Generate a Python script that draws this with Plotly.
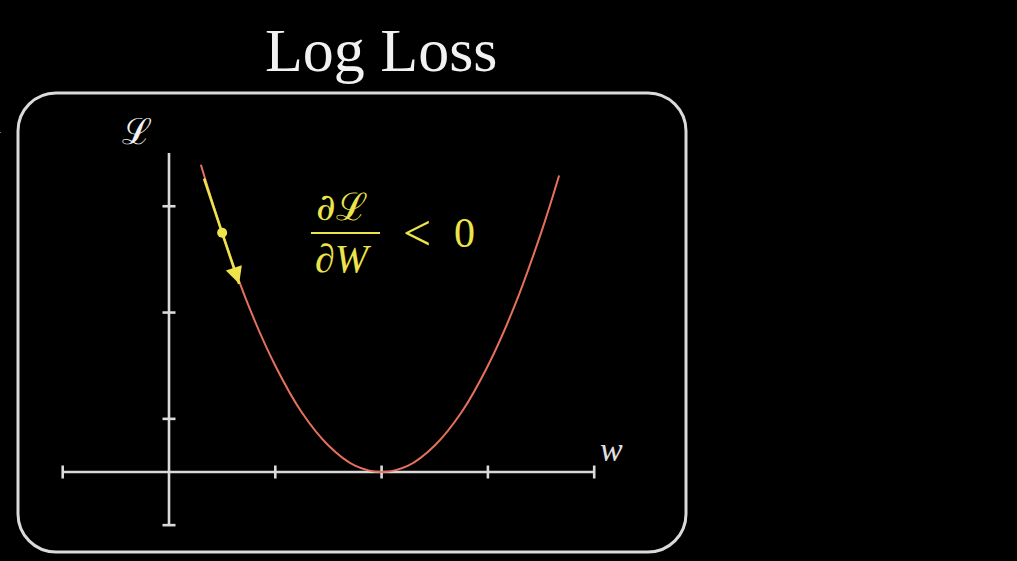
import plotly.graph_objects as go

# loss curve, values (minimum at w = 2)
w_vals = [0.3, 0.5, 0.75, 1.0, 1.25, 1.5, 1.75, 2.0, 2.25, 2.5, 2.75, 3.0, 3.25, 3.5, 3.67]
loss_vals = [2.89, 2.25, 1.56, 1.0, 0.56, 0.25, 0.06, 0.0, 0.06, 0.25, 0.56, 1.0, 1.56, 2.25, 2.79]

# manim style axes
x_axis_range = [-1, 4]
y_axis_range = [-0.5, 3]
x_ticks = [-1, 1, 2, 3, 4]
y_ticks = [-0.5, 0.5, 1.5, 2.5]

# current weight and the step direction
point_w = [0.5]
point_loss = [2.25]
arrow_w = [0.33, 0.66]
arrow_loss = [2.76, 1.77]

title_text = "Log Loss"
y_label = "ℒ"
x_label = "w"

W, H = 1017, 561
X0, Y0, U = 169, 472, 106.3   # origin pixel and pixels per unit


def px(x):
    return (x - X0) / U


def py(y):
    return (Y0 - y) / U


WHITE = "#DADADA"
YELLOW = "#ECE44A"
RED = "#E8705C"
TICK = 6.5 / U

fig = go.Figure()

# axis lines with their ticks
xs, ys = [x_axis_range[0], x_axis_range[1], None], [0, 0, None]
for t in x_ticks:
    xs += [t, t, None]
    ys += [-TICK, TICK, None]
xs += [0, 0, None]
ys += [y_axis_range[0], y_axis_range[1], None]
for t in y_ticks:
    xs += [-TICK, TICK, None]
    ys += [t, t, None]
fig.add_trace(go.Scatter(x=xs, y=ys, mode="lines",
                         line=dict(color=WHITE, width=2.6),
                         hoverinfo="skip", showlegend=False))

# loss curve
fig.add_trace(go.Scatter(x=w_vals, y=loss_vals, mode="lines",
                         line=dict(color=RED, width=2, shape="spline"),
                         showlegend=False))

# gradient arrow + point
fig.add_trace(go.Scatter(x=arrow_w, y=arrow_loss, mode="lines",
                         line=dict(color=YELLOW, width=2.6),
                         showlegend=False))
fig.add_annotation(x=arrow_w[1], y=arrow_loss[1], ax=arrow_w[1] - 0.04,
                   ay=arrow_loss[1] + 0.12, axref="x", ayref="y",
                   text="", showarrow=True, arrowhead=2, arrowsize=1.3,
                   arrowwidth=2.6, arrowcolor=YELLOW)
fig.add_trace(go.Scatter(x=point_w, y=point_loss, mode="markers",
                         marker=dict(color=YELLOW, size=10),
                         showlegend=False))

# rounded frame
L, R, T, B, r = 18, 686, 93, 552, 38
k = 0.5523 * r
path = (
    f"M {px(L + r)},{py(T)} L {px(R - r)},{py(T)} "
    f"C {px(R - r + k)},{py(T)} {px(R)},{py(T + r - k)} {px(R)},{py(T + r)} "
    f"L {px(R)},{py(B - r)} "
    f"C {px(R)},{py(B - r + k)} {px(R - r + k)},{py(B)} {px(R - r)},{py(B)} "
    f"L {px(L + r)},{py(B)} "
    f"C {px(L + r - k)},{py(B)} {px(L)},{py(B - r + k)} {px(L)},{py(B - r)} "
    f"L {px(L)},{py(T + r)} "
    f"C {px(L)},{py(T + r - k)} {px(L + r - k)},{py(T)} {px(L + r)},{py(T)} Z"
)
fig.add_shape(type="path", path=path, xref="x", yref="y",
              line=dict(color=WHITE, width=3))

serif = "Liberation Serif"

# title and axis labels
fig.add_annotation(x=px(381), y=py(50), text=title_text, showarrow=False,
                   font=dict(family=serif, size=62, color="#F2F2F2"))
fig.add_annotation(x=px(137), y=py(131), text=y_label, showarrow=False,
                   font=dict(family="DejaVu Serif", size=36, color="#F2F2F2"))
fig.add_annotation(x=px(611), y=py(449), text=f"<i>{x_label}</i>", showarrow=False,
                   font=dict(family=serif, size=34, color="#E0E0E0"))
# text cut off at the left edge of the frame
fig.add_annotation(x=px(3), y=py(123), text="n", showarrow=False, xanchor="right",
                   font=dict(family=serif, size=28, color="#E0E0E0"))

# dL/dW < 0
fig.add_annotation(x=px(342), y=py(207), text="<i>∂</i>ℒ", showarrow=False,
                   font=dict(family="DejaVu Serif", size=38, color=YELLOW))
fig.add_annotation(x=px(343), y=py(258), text="<i>∂W</i>", showarrow=False,
                   font=dict(family=serif, size=40, color=YELLOW))
fig.add_shape(type="line", x0=px(311), x1=px(380), y0=py(233), y1=py(233),
              xref="x", yref="y", line=dict(color=YELLOW, width=2.2))
fig.add_annotation(x=px(417), y=py(233), text="<", showarrow=False,
                   font=dict(family=serif, size=50, color=YELLOW))
fig.add_annotation(x=px(464), y=py(233), text="0", showarrow=False,
                   font=dict(family=serif, size=42, color=YELLOW))

fig.update_xaxes(range=[px(0), px(W)], visible=False)
fig.update_yaxes(range=[py(H), py(0)], visible=False)
fig.update_layout(width=W, height=H, margin=dict(l=0, r=0, t=0, b=0),
                  paper_bgcolor="black", plot_bgcolor="black")

fig.write_html("out.html", config={"displayModeBar": False},
               post_script="document.body.style.margin='0';"
                           "document.body.style.background='black';")
